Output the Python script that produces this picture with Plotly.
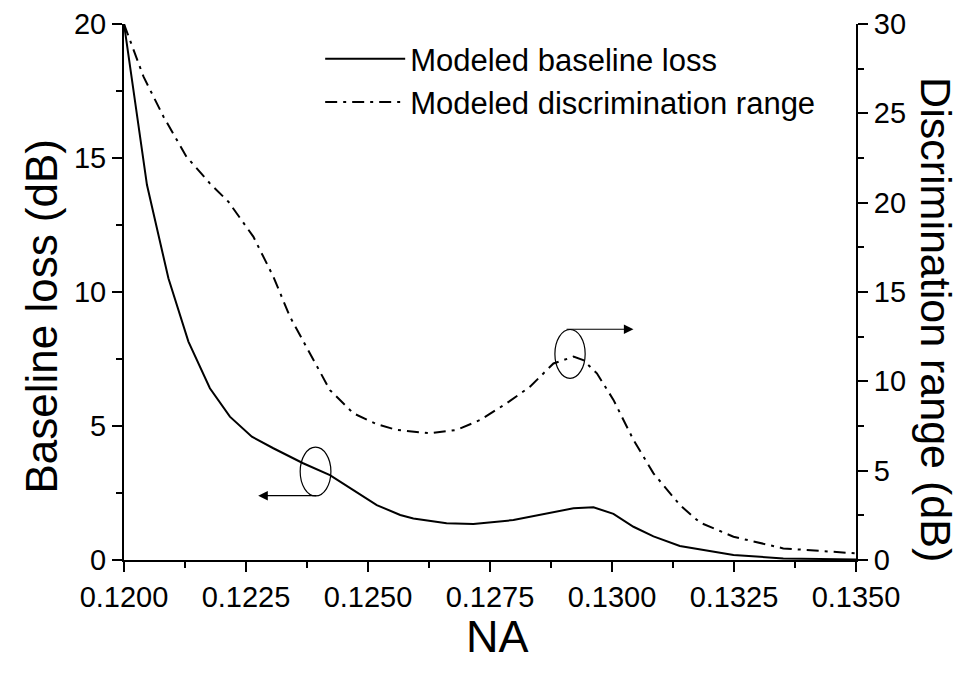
import plotly.graph_objects as go

# ---- data ----
na_loss = [0.12000, 0.12047, 0.12091, 0.12132, 0.12176, 0.12217, 0.12262, 0.12306,
           0.12367, 0.12422, 0.12470, 0.12518, 0.12566, 0.12593, 0.12661, 0.12716,
           0.12798, 0.12866, 0.12921, 0.12962, 0.13003, 0.13044, 0.13085, 0.13139,
           0.13249, 0.13351, 0.13500]
baseline_loss = [20.0, 14.0, 10.51, 8.15, 6.41, 5.35, 4.60, 4.17,
                 3.61, 3.17, 2.61, 2.05, 1.68, 1.55, 1.37, 1.34,
                 1.49, 1.74, 1.93, 1.97, 1.72, 1.24, 0.88, 0.52,
                 0.19, 0.06, 0.02]

na_disc = [0.12000, 0.12040, 0.12081, 0.12128, 0.12176, 0.12214, 0.12265, 0.12306,
           0.12340, 0.12374, 0.12422, 0.12470, 0.12518, 0.12559, 0.12627, 0.12682,
           0.12730, 0.12784, 0.12832, 0.12880, 0.12921, 0.12941, 0.12969, 0.13003,
           0.13044, 0.13085, 0.13139, 0.13180, 0.13249, 0.13351, 0.13500]
disc_range = [30.0, 27.05, 24.81, 22.57, 21.08, 20.05, 18.10, 15.86,
              13.62, 11.94, 9.51, 8.21, 7.60, 7.28, 7.09, 7.28,
              7.84, 8.77, 9.70, 11.00, 11.38, 11.19, 10.45, 8.96,
              6.72, 4.85, 3.08, 2.10, 1.30, 0.65, 0.37]

x_range = [0.1200, 0.1350]
x_ticks = [0.1200, 0.1225, 0.1250, 0.1275, 0.1300, 0.1325, 0.1350]
x_ticklabels = ["0.1200", "0.1225", "0.1250", "0.1275", "0.1300", "0.1325", "0.1350"]
y_left_range = [0, 20]
y_right_range = [0, 30]

# annotation markers (ellipses + arrows), in data units of x / left y
ell1 = dict(x0=0.12361, x1=0.12424, y0=2.39, y1=4.21)
arrow1 = dict(tail=(0.12397, 2.40), head=(0.12275, 2.40))
ell2 = dict(x0=0.12883, x1=0.12945, y0=6.78, y1=8.60)
arrow2 = dict(tail=(0.12904, 8.61), head=(0.13044, 8.61))

FONT = "Liberation Sans, Arial, sans-serif"

fig = go.Figure()
fig.add_trace(go.Scatter(x=na_loss, y=baseline_loss, mode="lines",
                         name="Modeled baseline loss",
                         line=dict(color="black", width=2)))
fig.add_trace(go.Scatter(x=na_disc, y=disc_range, mode="lines", yaxis="y2",
                         name="Modeled discrimination range",
                         line=dict(color="black", width=2, dash="12px,6px,3px,6px")))

axis_common = dict(showline=True, linecolor="black", linewidth=2, showgrid=False,
                   zeroline=False, ticklen=10, tickwidth=2, tickcolor="black",
                   automargin=False)

# the page body has an 8px default margin, so the plot margins are reduced by 8px
fig.update_layout(
    width=968, height=674,
    margin=dict(l=116, r=120, t=16, b=122),
    paper_bgcolor="white", plot_bgcolor="white",
    font=dict(family=FONT, color="black"),
    showlegend=True,
    legend=dict(x=0.268, y=0.985, xanchor="left", yanchor="top",
                bgcolor="rgba(0,0,0,0)", font=dict(size=31, family=FONT),
                itemwidth=80, tracegroupgap=0),
    xaxis=dict(range=x_range, tickvals=x_ticks, ticktext=x_ticklabels,
               ticks="outside", tickfont=dict(size=29),
               minor=dict(dtick=0.00125, ticks="outside", ticklen=6, tickwidth=2,
                          tickcolor="black"),
               **axis_common),
    xaxis3=dict(range=x_range, overlaying="x", side="top", tickvals=x_ticks,
                ticks="inside", showticklabels=False,
                minor=dict(dtick=0.00125, ticks="inside", ticklen=6, tickwidth=2,
                           tickcolor="black"),
                **axis_common),
    yaxis=dict(range=y_left_range, dtick=5, ticks="outside", tickfont=dict(size=29),
               minor=dict(dtick=2.5, ticks="outside", ticklen=6, tickwidth=2,
                          tickcolor="black"),
               **axis_common),
    yaxis2=dict(range=y_right_range, dtick=5, ticks="outside", overlaying="y",
                side="right", tickfont=dict(size=29),
                minor=dict(dtick=2.5, ticks="outside", ticklen=6, tickwidth=2,
                           tickcolor="black"),
                **axis_common),
)

# ellipses
for e in (ell1, ell2):
    fig.add_shape(type="circle", xref="x", yref="y", line=dict(color="black", width=1.2),
                  **e)
# arrows
for a in (arrow1, arrow2):
    fig.add_annotation(x=a["head"][0], y=a["head"][1], ax=a["tail"][0], ay=a["tail"][1],
                       xref="x", yref="y", axref="x", ayref="y", text="",
                       showarrow=True, arrowhead=2, arrowsize=1.6, arrowwidth=1.2,
                       arrowcolor="black")

# axis titles
fig.add_annotation(text="NA", xref="paper", yref="paper", x=0.51, y=-0.142,
                   showarrow=False, font=dict(size=45, family=FONT),
                   xanchor="center", yanchor="middle")
fig.add_annotation(text="Baseline loss (dB)", xref="paper", yref="paper", x=-0.1127,
                   y=0.455, showarrow=False, textangle=-90,
                   font=dict(size=44, family=FONT), xanchor="center", yanchor="middle")
fig.add_annotation(text="Discrimination range (dB)", xref="paper", yref="paper",
                   x=1.109, y=0.448, showarrow=False, textangle=90,
                   font=dict(size=43, family=FONT), xanchor="center", yanchor="middle")

fig.write_html("out.html")
